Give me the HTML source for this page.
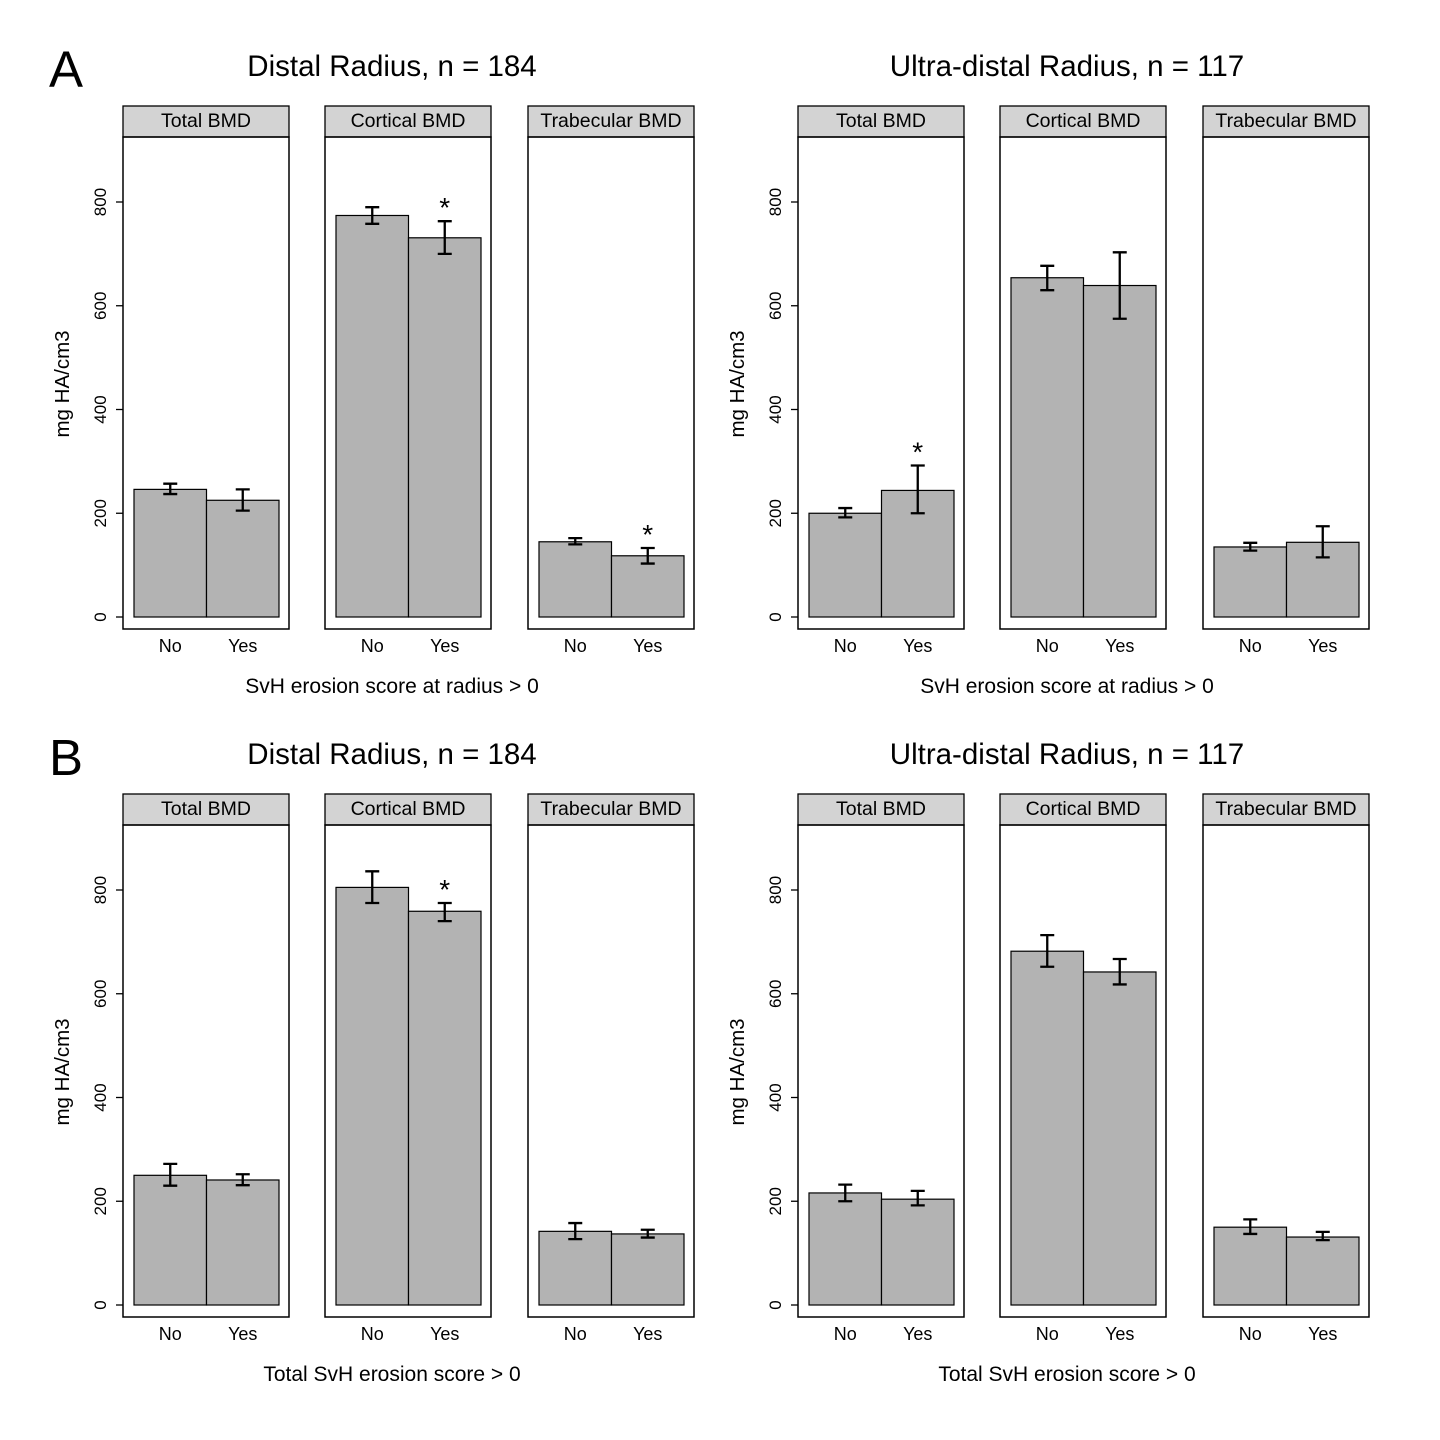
<!DOCTYPE html>
<html><head><meta charset="utf-8"><style>
html,body{margin:0;padding:0;background:#fff;}
svg{display:block;font-family:"Liberation Sans",Arial,sans-serif;}
</style></head><body>
<svg id="chart" width="1440" height="1440" viewBox="0 0 1440 1440" xmlns="http://www.w3.org/2000/svg"></svg>
<script>
// Data arrays (mg HA/cm3); rows: A-left, A-right, B-left, B-right; per facet [No, Yes]
const facets = ["Total BMD", "Cortical BMD", "Trabecular BMD"];
const categories = ["No", "Yes"];
const yTicks = [0, 200, 400, 600, 800];
const titles = ["Distal Radius, n = 184", "Ultra-distal Radius, n = 117", "Distal Radius, n = 184", "Ultra-distal Radius, n = 117"];
const xTitles = ["SvH erosion score at radius > 0", "SvH erosion score at radius > 0", "Total SvH erosion score > 0", "Total SvH erosion score > 0"];
const meansAL = [[246, 225], [774, 731], [145, 118]];
const lowAL = [[237, 205], [758, 700], [140, 103]];
const highAL = [[257, 246], [790, 763], [152, 133]];
const starAL = [[0, 0], [0, 1], [0, 1]];
const meansAR = [[200, 244], [654, 639], [135, 144]];
const lowAR = [[192, 200], [630, 575], [128, 115]];
const highAR = [[210, 292], [677, 703], [143, 175]];
const starAR = [[0, 1], [0, 0], [0, 0]];
const meansBL = [[250, 241], [805, 759], [142, 137]];
const lowBL = [[230, 231], [775, 740], [127, 130]];
const highBL = [[272, 252], [836, 775], [158, 145]];
const starBL = [[0, 0], [0, 1], [0, 0]];
const meansBR = [[216, 204], [682, 642], [150, 131]];
const lowBR = [[200, 192], [652, 618], [137, 125]];
const highBR = [[232, 220], [713, 667], [165, 141]];
const starBR = [[0, 0], [0, 0], [0, 0]];

const svg = document.getElementById('chart');
const NS = "http://www.w3.org/2000/svg";
function mk(tag, attrs, parent, text) {
  const e = document.createElementNS(NS, tag);
  for (const k in attrs) e.setAttribute(k, attrs[k]);
  if (text !== undefined) e.textContent = text;
  parent.appendChild(e);
  return e;
}
const blocks = [
  {ox: 0, oy: 0, m: meansAL, lo: lowAL, hi: highAL, st: starAL},
  {ox: 675, oy: 0, m: meansAR, lo: lowAR, hi: highAR, st: starAR},
  {ox: 0, oy: 688, m: meansBL, lo: lowBL, hi: highBL, st: starBL},
  {ox: 675, oy: 688, m: meansBR, lo: lowBR, hi: highBR, st: starBR}
];
const facetX = [123, 325, 528];
const facetW = 166;
const k = 415 / 800;

const lA = mk('text', {x: 49, y: 87, 'font-size': 51}, svg, 'A');


const lB = mk('text', {x: 49, y: 775, 'font-size': 51}, svg, 'B');



blocks.forEach((b, bi) => {
  const g = mk('g', {}, svg);
  
  
  const y0 = 617 + b.oy;
  const yS = v => y0 - v * k;
  const t = mk('text', {x: 392 + b.ox, y: 76 + b.oy, 'font-size': 29.5, 'text-anchor': 'middle'}, g, titles[bi]);
  
  
  const xt = mk('text', {x: 392 + b.ox, y: 693 + b.oy, 'font-size': 21, 'text-anchor': 'middle'}, g, xTitles[bi]);
  
  
  const yt = mk('text', {x: 0, y: 0, 'font-size': 20.5, 'text-anchor': 'middle', transform: `translate(${69 + b.ox},${384 + b.oy}) rotate(-90)`}, g, 'mg HA/cm3');
  
  
  yTicks.forEach(v => {
    const tk = mk('line', {x1: 116 + b.ox, x2: 123 + b.ox, y1: yS(v), y2: yS(v), stroke: '#000', 'stroke-width': 1.3}, g);
    
    
    const tl = mk('text', {x: 0, y: 0, 'font-size': 17, 'text-anchor': 'middle', transform: `translate(${106 + b.ox},${yS(v)}) rotate(-90)`}, g, String(v));
    
    
  });
  facets.forEach((f, fi) => {
    const fx = facetX[fi] + b.ox;
    const strip = mk('rect', {x: fx, y: 106 + b.oy, width: facetW, height: 31, fill: '#d3d3d3', stroke: '#000', 'stroke-width': 1.3}, g);
    
    
    const st = mk('text', {x: fx + facetW / 2, y: 127 + b.oy, 'font-size': 19.5, 'text-anchor': 'middle'}, g, f);
    
    
    const box = mk('rect', {x: fx, y: 137 + b.oy, width: facetW, height: 492, fill: 'none', stroke: '#000', 'stroke-width': 1.5}, g);
    
    
    categories.forEach((c, ci) => {
      const bx = fx + 11 + ci * 72.5;
      const cx = bx + 36.25;
      const v = b.m[fi][ci];
      const bar = mk('rect', {x: bx, y: yS(v), width: 72.5, height: v * k, fill: '#b3b3b3', stroke: '#000', 'stroke-width': 1.2}, g);
      
      
      const lo = yS(b.lo[fi][ci]), hi = yS(b.hi[fi][ci]);
      const eb = mk('path', {d: `M${cx},${lo}V${hi}M${cx - 7},${lo}H${cx + 7}M${cx - 7},${hi}H${cx + 7}`, stroke: '#000', 'stroke-width': 2.3, fill: 'none'}, g);
      
      
      if (b.st[fi][ci]) {
        const s = mk('text', {x: cx, y: hi - 4, 'font-size': 28, 'text-anchor': 'middle'}, g, '*');
        
        
      }
      const xl = mk('text', {x: cx, y: 652 + b.oy, 'font-size': 18, 'text-anchor': 'middle'}, g, c);
      
      
    });
  });
});
</script>
</body></html>
